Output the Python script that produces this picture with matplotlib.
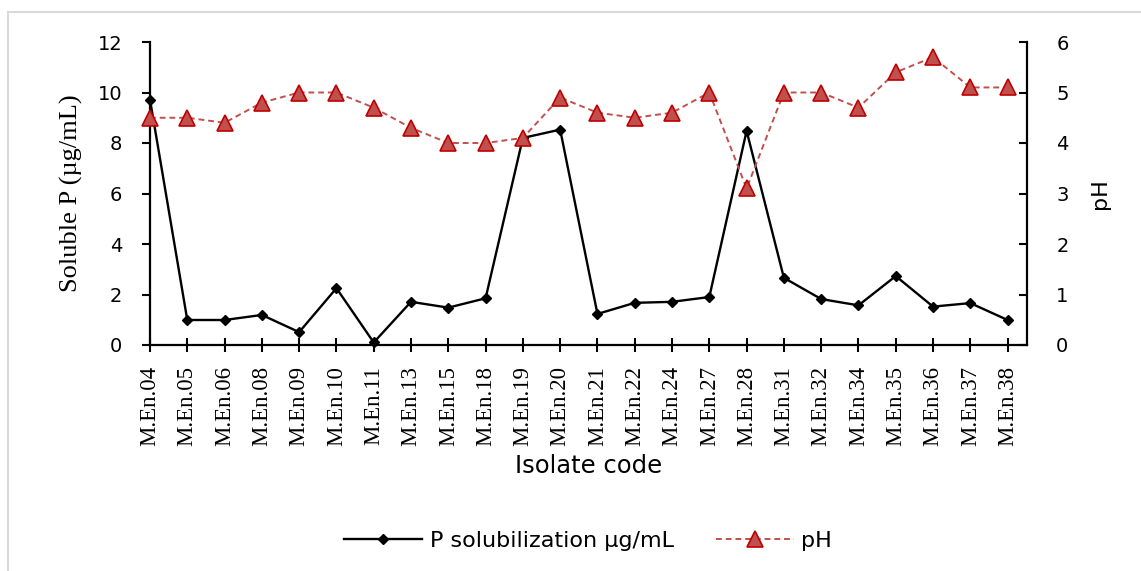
import matplotlib
matplotlib.use("Agg")
import matplotlib.pyplot as plt
from matplotlib.lines import Line2D

isolates = ["M.En.04", "M.En.05", "M.En.06", "M.En.08", "M.En.09", "M.En.10", "M.En.11",
            "M.En.13", "M.En.15", "M.En.18", "M.En.19", "M.En.20", "M.En.21", "M.En.22",
            "M.En.24", "M.En.27", "M.En.28", "M.En.31", "M.En.32", "M.En.34", "M.En.35",
            "M.En.36", "M.En.37", "M.En.38"]
soluble_p = [9.72, 0.99, 0.99, 1.19, 0.51, 2.25, 0.10, 1.71, 1.48, 1.85, 8.20, 8.53,
             1.23, 1.67, 1.71, 1.90, 8.48, 2.66, 1.82, 1.57, 2.73, 1.52, 1.66, 0.99]
ph_values = [4.5, 4.5, 4.4, 4.8, 5.0, 5.0, 4.7, 4.3, 4.0, 4.0, 4.1, 4.9,
             4.6, 4.5, 4.6, 5.0, 3.1, 5.0, 5.0, 4.7, 5.4, 5.7, 5.1, 5.1]
left_ticks = [0, 2, 4, 6, 8, 10, 12]
right_ticks = [0, 1, 2, 3, 4, 5, 6]

SANS = "DejaVu Sans"
SERIF = "Liberation Serif"

W, H = 1141, 571
fig = plt.figure(figsize=(W / 100, H / 100), dpi=100)
fig.patch.set_facecolor("white")

# light frame (left and top edges)
fig.add_artist(Line2D([8 / W, 8 / W], [0, 1 - 12 / H], transform=fig.transFigure,
                      color="#D9D9D9", lw=1.5))
fig.add_artist(Line2D([8 / W, 1], [1 - 12 / H, 1 - 12 / H], transform=fig.transFigure,
                      color="#D9D9D9", lw=1.5))

left, right, bottom, top = 150 / W, 1027 / W, 1 - 345 / H, 1 - 42 / H
ax = fig.add_axes([left, bottom, right - left, top - bottom])
ax2 = ax.twinx()

x = list(range(len(isolates)))
l1, = ax.plot(x, soluble_p, color="black", lw=1.7, marker="D", markersize=5,
              markerfacecolor="black", markeredgecolor="black",
              label="P solubilization µg/mL", clip_on=False, zorder=3)
l2, = ax2.plot(x, ph_values, color="#C0504D", lw=1.4, ls=(0, (3, 2)), marker="^",
               markersize=12, markerfacecolor="#C0504D", markeredgecolor="#C00000",
               markeredgewidth=1.2, label="pH", clip_on=False, zorder=3)

ax.set_xlim(0, 23.52)
ax.set_ylim(0, 12)
ax2.set_ylim(0, 6)
ax.set_yticks(left_ticks)
ax2.set_yticks(right_ticks)
ax.set_xticks(x)
ax.set_xticklabels(isolates, rotation=90, fontfamily=SERIF, fontsize=16.5)

for a in (ax, ax2):
    a.spines["top"].set_visible(False)
    for s in ("left", "right", "bottom"):
        a.spines[s].set_linewidth(1.6)
        a.spines[s].set_color("black")
ax.spines["right"].set_visible(False)
ax2.spines["left"].set_visible(False)
ax2.spines["bottom"].set_visible(False)

ax.tick_params(axis="x", direction="inout", length=10, width=1.5, pad=10)
ax.tick_params(axis="y", direction="out", length=6, width=1.5, pad=14, labelsize=14)
ax2.tick_params(axis="y", direction="in", length=6, width=1.5, pad=21, labelsize=14)
for lab in ax.get_yticklabels() + ax2.get_yticklabels():
    lab.set_fontfamily(SANS)

ax.set_ylabel("Soluble P (µg/mL)", fontfamily=SERIF, fontsize=19)
ax.yaxis.set_label_coords(-0.076, 0.5)
ax2.set_ylabel("pH", fontfamily=SANS, fontsize=16)
ax2.yaxis.set_label_coords(1.072, 0.5)
ax.set_xlabel("Isolate code", fontfamily=SANS, fontsize=17.5)
ax.xaxis.set_label_coords(0.5, -0.36)

fig.legend(handles=[l1, l2], loc="center", bbox_to_anchor=(588 / W, 1 - 541 / H),
           ncol=2, frameon=False, prop={"family": SANS, "size": 16},
           handlelength=3.5, handletextpad=0.35, columnspacing=1.9)

fig.savefig("out.png", dpi=100, facecolor="white")
